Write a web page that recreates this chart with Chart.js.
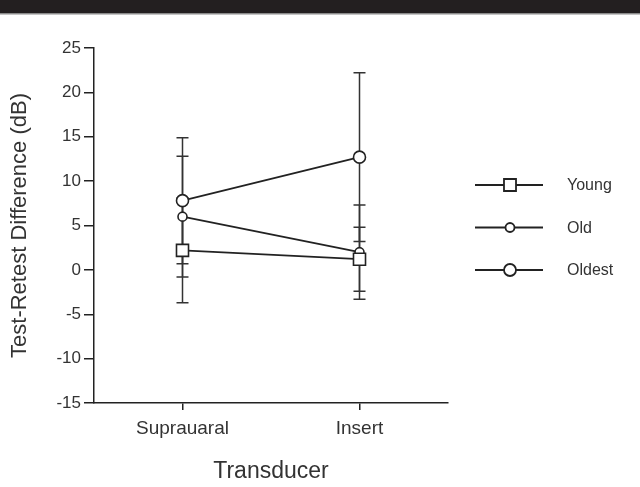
<!DOCTYPE html>
<html lang="en">
<head>
  <meta charset="UTF-8">
  <title>Test-Retest Difference by Transducer</title>
  <script src="https://cdn.jsdelivr.net/npm/chart.js@4.4.0/dist/chart.umd.min.js"></script>
  <style>
    html, body { margin: 0; padding: 0; background: #fff; }
    #wrap { width: 640px; height: 487px; }
  </style>
</head>
<body>
<div id="wrap"><canvas id="myChart" width="640" height="487"></canvas></div>
<script>
    // data (means and +/- SD, dB)
    const transducers = ['Suprauaral', 'Insert'];
    const groups = ['Young', 'Old', 'Oldest'];
    const youngMean = [2.2, 1.2];
    const youngSD = [5.9, 3.6];
    const oldMean = [6.0, 2.0];
    const oldSD = [6.8, 5.3];
    const oldestMean = [7.8, 12.7];
    const oldestSD = [7.1, 9.5];
    const yTicks = [-15, -10, -5, 0, 5, 10, 15, 20, 25];

    const ink = '#222';
    const font = "'Liberation Sans', Arial, sans-serif";

    function series(label, data, sd, style, radius) {
      return {
        label: label,
        data: data,
        sd: sd,
        borderColor: ink,
        borderWidth: 1.8,
        pointStyle: style,
        pointRadius: radius,
        pointHoverRadius: radius,
        pointBackgroundColor: '#fff',
        pointBorderColor: ink,
        pointBorderWidth: 1.6,
        tension: 0,
        fill: false
      };
    }

    const errorBars = {
      id: 'errorBars',
      beforeDatasetsDraw(chart) {
        const ctx = chart.ctx;
        const y = chart.scales.y;
        ctx.save();
        ctx.strokeStyle = '#333';
        ctx.lineWidth = 1.5;
        chart.data.datasets.forEach((ds, i) => {
          chart.getDatasetMeta(i).data.forEach((pt, j) => {
            const top = y.getPixelForValue(ds.data[j] + ds.sd[j]);
            const bot = y.getPixelForValue(ds.data[j] - ds.sd[j]);
            ctx.beginPath();
            ctx.moveTo(pt.x, top); ctx.lineTo(pt.x, bot);
            ctx.moveTo(pt.x - 6, top); ctx.lineTo(pt.x + 6, top);
            ctx.moveTo(pt.x - 6, bot); ctx.lineTo(pt.x + 6, bot);
            ctx.stroke();
          });
        });
        ctx.restore();
      }
    };

    // dark banner strip at the top + legend on the right
    const decor = {
      id: 'decor',
      beforeDraw(chart) {
        const ctx = chart.ctx;
        ctx.save();
        ctx.fillStyle = '#231f20';
        ctx.fillRect(0, 0, chart.width, 13);
        ctx.fillStyle = '#8a8a8a';
        ctx.fillRect(0, 13, chart.width, 1.5);
        ctx.restore();
      },
      afterDraw(chart) {
        const ctx = chart.ctx;
        ctx.save();
        chart.data.datasets.forEach((ds, i) => {
          const yy = 185 + i * 42.5;
          ctx.strokeStyle = ink;
          ctx.lineWidth = 1.8;
          ctx.beginPath();
          ctx.moveTo(475, yy); ctx.lineTo(543, yy);
          ctx.stroke();
          ctx.fillStyle = '#fff';
          Chart.helpers.drawPoint(ctx, {
            pointStyle: ds.pointStyle, radius: ds.pointRadius, borderWidth: ds.pointBorderWidth
          }, 510, yy);
          ctx.fillStyle = '#333';
          ctx.font = '16px ' + font;
          ctx.textBaseline = 'middle';
          ctx.fillText(ds.label, 567, yy + 1);
        });
        ctx.restore();
      }
    };

    const ctx = document.getElementById('myChart');
    const myChart = new Chart(ctx, {
      type: 'line',
      data: {
        labels: transducers,
        datasets: [
          series(groups[0], youngMean, youngSD, 'rect', 8.5),
          series(groups[1], oldMean, oldSD, 'circle', 4.5),
          series(groups[2], oldestMean, oldestSD, 'circle', 6)
        ]
      },
      options: {
        responsive: false,
        animation: false,
        events: [],
        layout: { padding: { top: 48, left: 6, right: 192, bottom: 0 } },
        plugins: {
          legend: { display: false },
          tooltip: { enabled: false }
        },
        scales: {
          x: {
            offset: true,
            grid: { display: true, offset: false, drawOnChartArea: false, drawTicks: true, tickLength: 7, color: ink, lineWidth: 1.5 },
            border: { display: true, color: ink, width: 1.5 },
            ticks: { color: '#333', padding: 7, font: { family: font, size: 19 } },
            title: { display: true, text: 'Transducer', color: '#333', padding: { top: 0, bottom: 2 }, font: { family: font, size: 23 } },
            afterFit(s) { s.height = 84; }
          },
          y: {
            min: yTicks[0],
            max: yTicks[yTicks.length - 1],
            afterBuildTicks(s) { s.ticks = yTicks.map(v => ({ value: v })); },
            grid: { display: true, drawOnChartArea: false, drawTicks: true, tickLength: 10, color: ink, lineWidth: 1.5 },
            border: { display: true, color: ink, width: 1.5 },
            ticks: { color: '#333', padding: 3, font: { family: font, size: 17 } },
            title: { display: true, text: 'Test-Retest Difference (dB)', color: '#333', padding: { top: 1, bottom: 0 }, font: { family: font, size: 22 } },
            afterFit(s) { s.width = 88; }
          }
        }
      },
      plugins: [errorBars, decor]
    });
</script>
</body>
</html>
